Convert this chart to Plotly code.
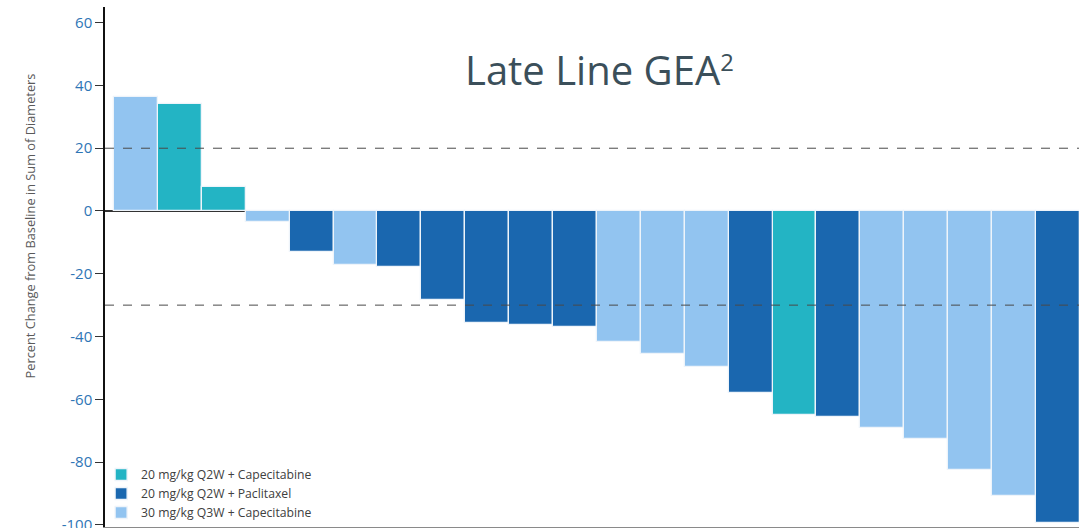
import plotly.graph_objects as go

patients = [f"P{i}" for i in range(1, 23)]
change = [36.3, 34.2, 7.8, -3.6, -13.1, -17.2, -17.7, -28.3, -35.6, -36.3, -36.9,
          -41.7, -45.7, -49.6, -58.0, -65.0, -65.5, -69.1, -72.6, -82.5, -90.7, -99.5]
cohort = ["C30", "C20", "C20", "C30", "P20", "C30", "P20", "P20", "P20", "P20", "P20",
          "C30", "C30", "C30", "P20", "C20", "P20", "C30", "C30", "C30", "C30", "P20"]

groups = [
    ("C20", "20 mg/kg Q2W + Capecitabine", "#23B4C4"),
    ("P20", "20 mg/kg Q2W + Paclitaxel", "#1A67AF"),
    ("C30", "30 mg/kg Q3W + Capecitabine", "#92C4F0"),
]
thresholds = [20, -30]
y_ticks = [-100, -80, -60, -40, -20, 0, 20, 40, 60]
y_tick_labels = ["-100", "-80", "-60", "-40", "-20", "0", "20", "40", "60"]

fig = go.Figure()
for key, name, color in groups:
    xs = [p for p, c in zip(patients, cohort) if c == key]
    ys = [v for v, c in zip(change, cohort) if c == key]
    fig.add_trace(go.Bar(x=xs, y=ys, name=name, width=1,
                         marker=dict(color=color, line=dict(color="#EEF4FA", width=1.3))))

for t in thresholds:
    fig.add_shape(type="line", xref="paper", x0=0, x1=1, yref="y", y0=t, y1=t,
                  line=dict(color="#4A4A4A", width=1, dash="dash"))

fig.add_annotation(text="Late Line GEA<span style='font-size:34px'><sup>2</sup></span>",
                   xref="paper", yref="paper",
                   x=0.508, y=0.88, xanchor="center", yanchor="middle", showarrow=False,
                   font=dict(family="Open Sans", size=40, color="#3B4F5A"))
fig.add_annotation(text="Percent Change from Baseline in Sum of Diameters", xref="paper", yref="paper",
                   x=-0.077, y=0.578, xanchor="center", yanchor="middle", showarrow=False,
                   textangle=-90, font=dict(family="Open Sans", size=12.8, color="#595959"))

fig.update_layout(
    width=1079, height=528,
    margin=dict(l=105, r=0, t=7, b=1, autoexpand=False),
    paper_bgcolor="white", plot_bgcolor="white",
    barmode="overlay", bargap=0,
    font=dict(family="Open Sans"),
    legend=dict(x=-0.004, y=0.0, xanchor="left", yanchor="bottom", bgcolor="rgba(0,0,0,0)",
                font=dict(size=12.2, color="#404040"), traceorder="normal",
                tracegroupgap=0),
    xaxis=dict(type="category", categoryorder="array", categoryarray=patients,
               range=[-0.705, 21.48], showticklabels=False, ticks="", showgrid=False,
               showline=True, linecolor="#8A8A8A", linewidth=1.5, zeroline=False, mirror=False,
               automargin=False),
    yaxis=dict(range=[-100.7, 65], tickvals=y_ticks, ticktext=y_tick_labels, showgrid=False,
               showline=True, linecolor="#111111", linewidth=1.5,
               ticks="outside", ticklen=8, tickcolor="#333333", tickwidth=1,
               ticklabeloverflow="allow", automargin=False,
               tickfont=dict(family="Open Sans", size=15, color="#2E75B6"),
               zeroline=True, zerolinecolor="#333333", zerolinewidth=1.5),
)

fig.write_html("out.html")
